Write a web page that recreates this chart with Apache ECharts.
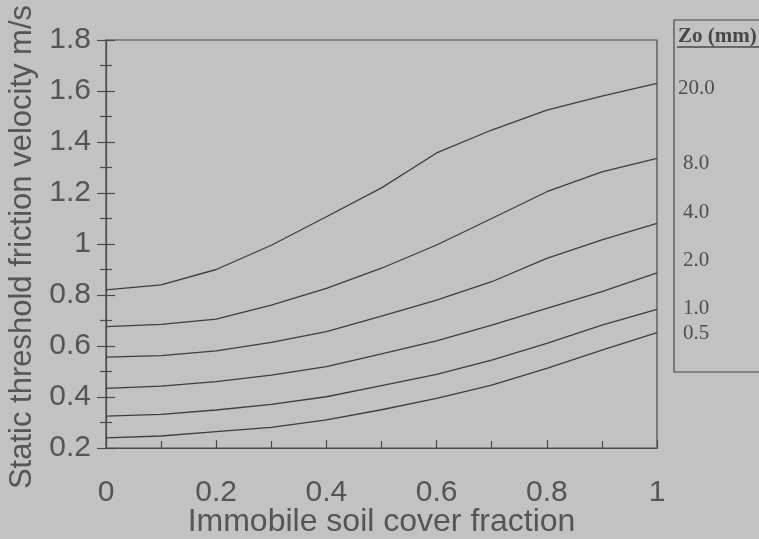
<!DOCTYPE html>
<html>
<head>
<meta charset="utf-8">
<script src="https://cdn.jsdelivr.net/npm/echarts@6/dist/echarts.min.js"></script>
<style>
  html, body { margin: 0; padding: 0; background: #c2c2c2; }
  #chart { width: 759px; height: 539px; }
</style>
</head>
<body>
<div id="chart"></div>
<script>
// immobile soil cover fraction
var coverFraction = [0, 0.1, 0.2, 0.3, 0.4, 0.5, 0.6, 0.7, 0.8, 0.9, 1.0];

// static threshold friction velocity (m/s), one curve per roughness length Zo
var zo20 = [0.82, 0.84, 0.90, 0.995, 1.107, 1.22, 1.357, 1.447, 1.525, 1.58, 1.63];
var zo8 = [0.676, 0.685, 0.705, 0.76, 0.826, 0.905, 0.996, 1.10, 1.205, 1.283, 1.336];
var zo4 = [0.556, 0.562, 0.581, 0.614, 0.656, 0.717, 0.78, 0.852, 0.944, 1.016, 1.081];
var zo2 = [0.434, 0.443, 0.46, 0.486, 0.519, 0.569, 0.62, 0.682, 0.748, 0.813, 0.887];
var zo1 = [0.325, 0.332, 0.349, 0.371, 0.401, 0.445, 0.489, 0.545, 0.61, 0.682, 0.744];
var zo05 = [0.24, 0.247, 0.264, 0.281, 0.31, 0.35, 0.395, 0.447, 0.512, 0.584, 0.652];

var legendTitle = 'Zo (mm)';
var zoLabels = ['20.0', '8.0', '4.0', '2.0', '1.0', '0.5'];

var curves = [zo20, zo8, zo4, zo2, zo1, zo05];

var ink = '#3e3e3e';
var axisInk = '#4a4a4a';
var textGrey = '#555555';

function pairs(ys) {
    return coverFraction.map(function (x, i) { return [x, ys[i]]; });
}

function tickText(v) {
    return String(Math.round(v * 10) / 10);
}

var chart = echarts.init(document.getElementById('chart'));

// legend box on the right
var labelY = [88, 163, 212, 260, 308, 333];
var labelX = [678, 683, 683, 683, 683, 683];
var graphics = [
    {
        type: 'rect',
        shape: {x: 674, y: 20, width: 110, height: 352},
        style: {fill: 'none', stroke: axisInk, lineWidth: 1.2}
    },
    {
        type: 'text',
        x: 678, y: 37,
        style: {text: legendTitle, font: 'bold 21px "Liberation Serif"', fill: '#484848', verticalAlign: 'middle'}
    },
    {
        type: 'line',
        shape: {x1: 677, y1: 47, x2: 759, y2: 47},
        style: {stroke: '#484848', lineWidth: 1.3}
    },
    {
        // y axis title
        type: 'text',
        x: 22, y: 247,
        rotation: Math.PI / 2,
        style: {
            text: 'Static threshold friction velocity m/s',
            font: '31px "Liberation Sans"',
            fill: textGrey,
            align: 'center',
            verticalAlign: 'middle'
        }
    }
];
zoLabels.forEach(function (t, i) {
    graphics.push({
        type: 'text',
        x: labelX[i], y: labelY[i],
        style: {text: t, font: '21px "Liberation Serif"', fill: '#4e4e4e', verticalAlign: 'middle'}
    });
});

var yBase = {
    type: 'value',
    min: 0.2,
    max: 1.8,
    interval: 0.2,
    position: 'left',
    splitLine: {show: false}
};

chart.setOption({
    backgroundColor: '#c2c2c2',
    animation: false,
    grid: {
        left: 106, right: 102, top: 40, bottom: 91,
        outerBoundsMode: 'none',
        containLabel: false,
        show: true,
        borderColor: axisInk,
        borderWidth: 1.2
    },
    xAxis: {
        type: 'value',
        min: 0,
        max: 1,
        interval: 0.2,
        name: 'Immobile soil cover fraction',
        nameLocation: 'middle',
        nameGap: 58,
        nameMoveOverlap: false,
        nameTextStyle: {fontFamily: 'Liberation Sans', fontSize: 32, color: textGrey},
        axisLine: {lineStyle: {color: axisInk, width: 1.2}},
        axisTick: {inside: true, length: 8, lineStyle: {color: axisInk, width: 1.2}},
        minorTick: {show: true, splitNumber: 2, length: 7, lineStyle: {color: axisInk, width: 1.2}},
        axisLabel: {
            margin: 30,
            fontFamily: 'Liberation Sans',
            fontSize: 30,
            color: textGrey,
            formatter: tickText
        },
        splitLine: {show: false}
    },
    yAxis: [
        Object.assign({}, yBase, {
            axisLine: {lineStyle: {color: axisInk, width: 1.2}},
            axisTick: {length: 9, lineStyle: {color: axisInk, width: 1.2}},
            minorTick: {show: true, splitNumber: 2, length: 6, lineStyle: {color: axisInk, width: 1.2}},
            axisLabel: {
                margin: 15,
                fontFamily: 'Liberation Sans',
                fontSize: 30,
                color: textGrey,
                formatter: tickText
            }
        }),
        Object.assign({}, yBase, {
            axisLine: {show: false},
            axisTick: {inside: true, length: 9, lineStyle: {color: axisInk, width: 1.2}},
            minorTick: {show: true, splitNumber: 2, length: 6, lineStyle: {color: axisInk, width: 1.2}},
            axisLabel: {show: false}
        })
    ],
    series: curves.map(function (c, i) {
        return {
            name: zoLabels[i],
            type: 'line',
            data: pairs(c),
            showSymbol: false,
            symbol: 'none',
            smooth: false,
            lineStyle: {color: ink, width: 1.3}
        };
    }),
    graphic: graphics
});
</script>
</body>
</html>
